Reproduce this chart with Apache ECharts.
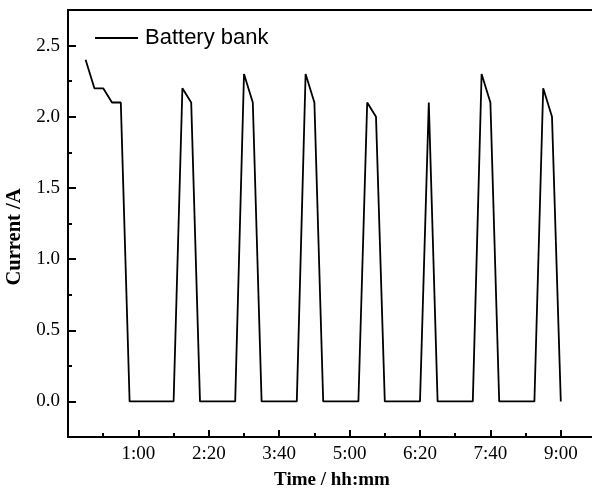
<!DOCTYPE html>
<html>
<head>
<meta charset="utf-8">
<script src="https://cdn.jsdelivr.net/npm/echarts@6/dist/echarts.min.js"></script>
<style>
html,body{margin:0;padding:0;background:#fff;}
#chart{width:592px;height:491px;}
</style>
</head>
<body>
<div id="chart"></div>
<script>
// time in minutes since start
var timeMinutes = [0,10,20,30,40,50,60,70,80,90,100,110,120,130,140,150,160,170,180,190,200,210,220,230,240,250,260,270,280,290,300,310,320,330,340,350,360,370,380,390,400,410,420,430,440,450,460,470,480,490,500,510,520,530,540];
var currentA = [2.4,2.2,2.2,2.1,2.1,0,0,0,0,0,0,2.2,2.1,0,0,0,0,0,2.3,2.1,0,0,0,0,0,2.3,2.1,0,0,0,0,0,2.1,2.0,0,0,0,0,0,2.1,0,0,0,0,0,2.3,2.1,0,0,0,0,0,2.2,2.0,0];
var xTickValues = [60,140,220,300,380,460,540];
var xMinorValues = [20,100,180,260,340,420,500];
var yTickValues = [0,0.5,1.0,1.5,2.0,2.5];
var yMinorValues = [0.25,0.75,1.25,1.75,2.25];
var seriesName = 'Battery bank';

function fmtTime(v){
  var h = Math.floor(v/60), m = Math.round(v - h*60);
  return h + ':' + (m < 10 ? '0' + m : m);
}

var serif = '"Liberation Serif","Times New Roman",serif';
var chart = echarts.init(document.getElementById('chart'));
var data = timeMinutes.map(function(t,i){ return [t, currentA[i]]; });

chart.setOption({
  animation: false,
  backgroundColor: '#fff',
  grid: { left: 68, top: 10, right: -4, bottom: 54, containLabel: false, outerBoundsMode: 'none' },
  legend: {
    data: [seriesName],
    left: 95, top: 27, padding: 0,
    icon: 'rect', itemWidth: 43, itemHeight: 2,
    itemStyle: { color: '#000' },
    textStyle: { fontFamily: '"Liberation Sans",Arial,sans-serif', fontSize: 22, color: '#000', padding: [0,0,0,2] }
  },
  xAxis: [
    {
      type: 'value', min: -20, max: 580,
      axisLine: { show: true, onZero: false, lineStyle: { color: '#000', width: 2 } },
      axisTick: { show: true, inside: true, length: 7, lineStyle: { color: '#000', width: 2 }, customValues: xTickValues },
      axisLabel: { customValues: xTickValues, formatter: fmtTime, fontFamily: serif, fontSize: 19, color: '#000', margin: 8 },
      splitLine: { show: false },
      name: 'Time / hh:mm', nameLocation: 'middle', nameGap: 34,
      nameTextStyle: { fontFamily: serif, fontSize: 19, fontWeight: 'bold', color: '#000' }
    },
    {
      type: 'value', min: -20, max: 580, position: 'bottom',
      axisLine: { show: false, onZero: false },
      axisTick: { show: true, inside: true, length: 4, lineStyle: { color: '#000', width: 2 }, customValues: xMinorValues },
      axisLabel: { show: false },
      splitLine: { show: false }
    },
    {
      type: 'value', min: -20, max: 580, position: 'top',
      axisLine: { show: true, onZero: false, lineStyle: { color: '#000', width: 2 } },
      axisTick: { show: false }, axisLabel: { show: false }, splitLine: { show: false }
    }
  ],
  yAxis: [
    {
      type: 'value', min: -0.25, max: 2.75,
      axisLine: { show: true, onZero: false, lineStyle: { color: '#000', width: 2 } },
      axisTick: { show: true, inside: true, length: 8, lineStyle: { color: '#000', width: 2 }, customValues: yTickValues },
      axisLabel: { customValues: yTickValues, formatter: function(v){ return v.toFixed(1); }, fontFamily: serif, fontSize: 19, color: '#000', margin: 8 },
      splitLine: { show: false },
      name: 'Current /A', nameLocation: 'middle', nameGap: 40,
      nameTextStyle: { fontFamily: serif, fontSize: 20.5, fontWeight: 'bold', color: '#000', padding: [0, 27, 0, 0] }
    },
    {
      type: 'value', min: -0.25, max: 2.75, position: 'left',
      axisLine: { show: false, onZero: false },
      axisTick: { show: true, inside: true, length: 4, lineStyle: { color: '#000', width: 2 }, customValues: yMinorValues },
      axisLabel: { show: false }, splitLine: { show: false }
    }
  ],
  series: [{
    name: seriesName, type: 'line', data: data,
    xAxisIndex: 0, yAxisIndex: 0,
    symbol: 'none', lineStyle: { color: '#000', width: 1.8 }, itemStyle: { color: '#000' }
  }]
});
</script>
</body>
</html>
